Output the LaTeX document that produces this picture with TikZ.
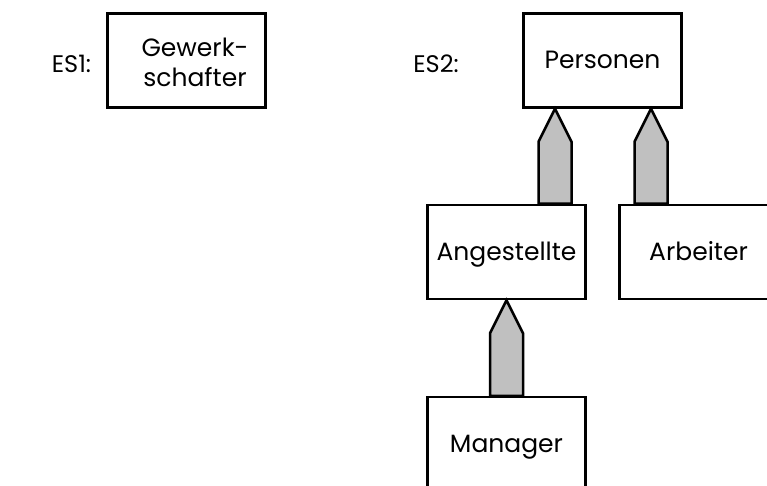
\documentclass[tikz,border=0pt]{standalone}
\usepackage{fontspec}
\setmainfont{Poppins}
\usetikzlibrary{calc}
\definecolor{inhgray}{HTML}{C0C0C0}
\tikzset{
  entity/.style={draw, line width=2.5pt, minimum width=158pt, minimum height=94pt,
    inner sep=0pt, align=center, text height=17pt, text depth=0pt,
    font=\fontsize{25}{30}\selectfont},
  label/.style={font=\fontsize{24}{28}\selectfont, inner sep=0pt,
    text height=17pt, text depth=0pt},
  inh/.style={draw, fill=inhgray, line width=2.5pt, line join=miter},
}
% draws an inheritance arrow from the child's top (shifted by #2) up to the parent
\newcommand{\inharrow}[3]{%
  \path ([xshift=#2]#1.north) coordinate (b) (b |- #3.south) coordinate (t);
  \draw[inh] ([xshift=-16.5pt]b) -- ([xshift=-16.5pt,yshift=-33pt]t) -- (t)
    -- ([xshift=16.5pt,yshift=-33pt]t) -- ([xshift=16.5pt]b) -- cycle;
}
\begin{document}
\begin{tikzpicture}[x=1pt, y=-1pt]
  \useasboundingbox (0,0) rectangle (767,486);
  \clip (0,0) rectangle (767,486);
  % schema ES1
  \node[label] (es1) at (71.5,64) {ES1:};
  \node[entity] (gew) at (186.5,60.5) {};
  \node[font=\fontsize{25}{30}\selectfont, inner sep=0pt, align=center]
    (gewtext) at (195,62) {Gewerk-\\schafter};
  % schema ES2
  \node[label] (es2) at (436,64) {ES2:};
  \node[entity] (pers) at (602.5,60.5) {Personen};
  \node[entity] (ang) at (506.5,252) {Angestellte};
  \node[entity] (arb) at (698.5,252) {Arbeiter};
  \node[entity] (man) at (506.5,444) {Manager};
  % generalisation arrows
  \inharrow{ang}{48.5pt}{pers}
  \inharrow{arb}{-47.5pt}{pers}
  \inharrow{man}{0pt}{ang}
\end{tikzpicture}
\end{document}
